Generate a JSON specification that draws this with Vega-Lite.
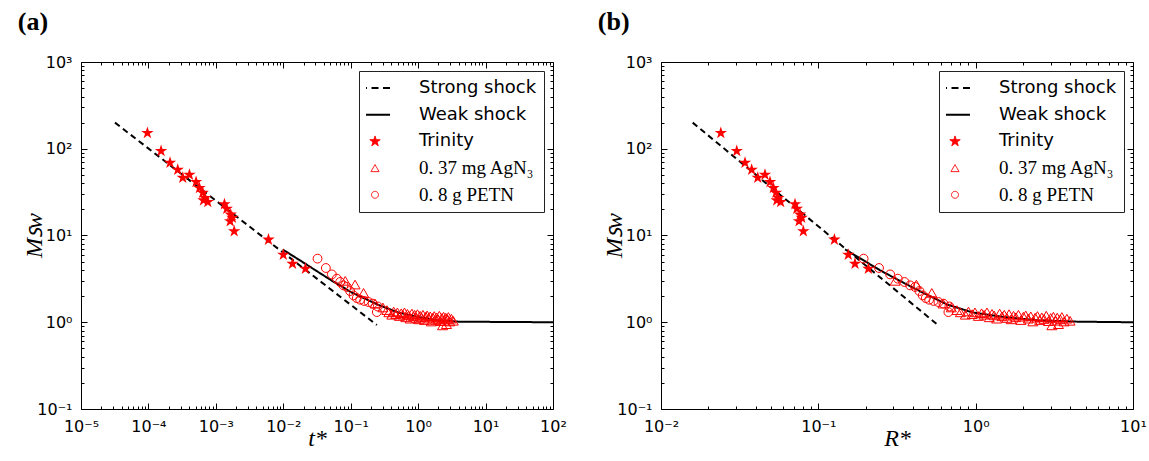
{
  "$schema": "https://vega.github.io/schema/vega-lite/v6.json",
  "background": "white",
  "padding": {"left": 17, "top": 8, "right": 0, "bottom": 0},
  "config": {
    "font": "DejaVu Sans",
    "view": {"stroke": "black", "strokeWidth": 1},
    "axis": {
      "domain": false, "ticks": true, "grid": false, "tickSize": -6, "tickColor": "black", "tickWidth": 1,
      "labelFont": "DejaVu Sans", "labelFontSize": 16, "labelColor": "black",
      "labelOverlap": false, "labelFlush": false, "labelBound": false, "labelPadding": 15,
      "titleFont": "Liberation Serif", "titleFontStyle": "italic", "titleFontWeight": "normal",
      "titleFontSize": 24, "titleColor": "black", "titlePadding": -10
    },
    "axisBottom": {"titlePadding": -8},
    "title": {"font": "Liberation Serif", "fontSize": 26, "fontWeight": "bold", "color": "black", "anchor": "start", "frame": "bounds"}
  },
  "datasets": {
    "lines": [
      {"series": "Strong shock", "t": 3.19e-5, "R": 0.0159, "M": 200},
      {"series": "Strong shock", "t": 0.244, "R": 0.575, "M": 0.93},
      {"series": "Weak shock", "t": 0.0098, "R": 0.148, "M": 6.9},
      {"series": "Weak shock", "t": 0.0189, "R": 0.200, "M": 5.0},
      {"series": "Weak shock", "t": 0.0296, "R": 0.245, "M": 4.0},
      {"series": "Weak shock", "t": 0.053, "R": 0.33, "M": 3.0},
      {"series": "Weak shock", "t": 0.104, "R": 0.46, "M": 2.2},
      {"series": "Weak shock", "t": 0.25, "R": 0.66, "M": 1.6},
      {"series": "Weak shock", "t": 0.5, "R": 0.95, "M": 1.3},
      {"series": "Weak shock", "t": 1.0, "R": 1.5, "M": 1.15},
      {"series": "Weak shock", "t": 2.0, "R": 2.5, "M": 1.05},
      {"series": "Weak shock", "t": 4.0, "R": 4.5, "M": 1.015},
      {"series": "Weak shock", "t": 100, "R": 10, "M": 1.0}
    ],
    "pts": [
      {"series": "Trinity", "t": 9.66e-5, "R": 0.0240, "M": 151.7},
      {"series": "Trinity", "t": 1.54e-4, "R": 0.0303, "M": 94.2},
      {"series": "Trinity", "t": 2.09e-4, "R": 0.0342, "M": 69.0},
      {"series": "Trinity", "t": 2.72e-4, "R": 0.0377, "M": 57.3},
      {"series": "Trinity", "t": 3.23e-4, "R": 0.0412, "M": 46.3},
      {"series": "Trinity", "t": 4.06e-4, "R": 0.0458, "M": 50.2},
      {"series": "Trinity", "t": 5.09e-4, "R": 0.0493, "M": 41.3},
      {"series": "Trinity", "t": 5.71e-4, "R": 0.0518, "M": 35.2},
      {"series": "Trinity", "t": 6.40e-4, "R": 0.0538, "M": 31.1},
      {"series": "Trinity", "t": 6.92e-4, "R": 0.0557, "M": 27.0},
      {"series": "Trinity", "t": 7.59e-4, "R": 0.0576, "M": 24.3},
      {"series": "Trinity", "t": 6.55e-4, "R": 0.0544, "M": 25.4},
      {"series": "Trinity", "t": 1.34e-3, "R": 0.0711, "M": 22.9},
      {"series": "Trinity", "t": 1.45e-3, "R": 0.0730, "M": 20.4},
      {"series": "Trinity", "t": 1.66e-3, "R": 0.0766, "M": 17.4},
      {"series": "Trinity", "t": 1.76e-3, "R": 0.0784, "M": 16.0},
      {"series": "Trinity", "t": 1.63e-3, "R": 0.0754, "M": 14.6},
      {"series": "Trinity", "t": 1.87e-3, "R": 0.0803, "M": 11.2},
      {"series": "Trinity", "t": 6.03e-3, "R": 0.1265, "M": 8.96},
      {"series": "Trinity", "t": 1.0e-2, "R": 0.155, "M": 6.01},
      {"series": "Trinity", "t": 1.37e-2, "R": 0.171, "M": 4.73},
      {"series": "Trinity", "t": 2.13e-2, "R": 0.208, "M": 4.14},
      {"series": "0. 8 g PETN", "t": 0.0322, "R": 0.194, "M": 5.41},
      {"series": "0. 8 g PETN", "t": 0.0428, "R": 0.243, "M": 4.22},
      {"series": "0. 8 g PETN", "t": 0.0525, "R": 0.286, "M": 3.56},
      {"series": "0. 8 g PETN", "t": 0.0623, "R": 0.320, "M": 3.18},
      {"series": "0. 8 g PETN", "t": 0.0697, "R": 0.353, "M": 2.91},
      {"series": "0. 8 g PETN", "t": 0.0781, "R": 0.383, "M": 2.66},
      {"series": "0. 8 g PETN", "t": 0.0875, "R": 0.412, "M": 2.55},
      {"series": "0. 8 g PETN", "t": 0.098, "R": 0.439, "M": 2.29},
      {"series": "0. 8 g PETN", "t": 0.110, "R": 0.461, "M": 2.04},
      {"series": "0. 8 g PETN", "t": 0.123, "R": 0.482, "M": 1.90},
      {"series": "0. 8 g PETN", "t": 0.138, "R": 0.506, "M": 1.82},
      {"series": "0. 8 g PETN", "t": 0.158, "R": 0.540, "M": 1.76},
      {"series": "0. 8 g PETN", "t": 0.184, "R": 0.580, "M": 1.71},
      {"series": "0. 8 g PETN", "t": 0.211, "R": 0.624, "M": 1.64},
      {"series": "0. 8 g PETN", "t": 0.252, "R": 0.681, "M": 1.52},
      {"series": "0. 8 g PETN", "t": 0.244, "R": 0.671, "M": 1.31},
      {"series": "0. 37 mg AgN₃", "t": 0.083, "R": 0.308, "M": 3.0},
      {"series": "0. 37 mg AgN₃", "t": 0.116, "R": 0.42, "M": 2.72},
      {"series": "0. 37 mg AgN₃", "t": 0.155, "R": 0.526, "M": 2.18},
      {"series": "0. 37 mg AgN₃", "t": 0.23, "R": 0.62, "M": 1.64},
      {"series": "0. 37 mg AgN₃", "t": 0.30, "R": 0.70, "M": 1.48},
      {"series": "0. 37 mg AgN₃", "t": 0.344, "R": 0.76, "M": 1.38},
      {"series": "0. 37 mg AgN₃", "t": 0.368, "R": 0.80, "M": 1.30},
      {"series": "0. 37 mg AgN₃", "t": 0.407, "R": 0.86, "M": 1.22},
      {"series": "0. 37 mg AgN₃", "t": 0.433, "R": 0.90, "M": 1.33},
      {"series": "0. 37 mg AgN₃", "t": 0.466, "R": 0.95, "M": 1.24},
      {"series": "0. 37 mg AgN₃", "t": 0.493, "R": 0.99, "M": 1.30},
      {"series": "0. 37 mg AgN₃", "t": 0.527, "R": 1.04, "M": 1.18},
      {"series": "0. 37 mg AgN₃", "t": 0.562, "R": 1.09, "M": 1.27},
      {"series": "0. 37 mg AgN₃", "t": 0.591, "R": 1.13, "M": 1.22},
      {"series": "0. 37 mg AgN₃", "t": 0.627, "R": 1.18, "M": 1.30},
      {"series": "0. 37 mg AgN₃", "t": 0.656, "R": 1.22, "M": 1.14},
      {"series": "0. 37 mg AgN₃", "t": 0.693, "R": 1.27, "M": 1.25},
      {"series": "0. 37 mg AgN₃", "t": 0.724, "R": 1.31, "M": 1.20},
      {"series": "0. 37 mg AgN₃", "t": 0.762, "R": 1.36, "M": 1.10},
      {"series": "0. 37 mg AgN₃", "t": 0.808, "R": 1.42, "M": 1.26},
      {"series": "0. 37 mg AgN₃", "t": 0.848, "R": 1.47, "M": 1.17},
      {"series": "0. 37 mg AgN₃", "t": 0.887, "R": 1.52, "M": 1.22},
      {"series": "0. 37 mg AgN₃", "t": 0.935, "R": 1.58, "M": 1.12},
      {"series": "0. 37 mg AgN₃", "t": 0.977, "R": 1.63, "M": 1.24},
      {"series": "0. 37 mg AgN₃", "t": 1.02, "R": 1.68, "M": 1.08},
      {"series": "0. 37 mg AgN₃", "t": 1.07, "R": 1.74, "M": 1.19},
      {"series": "0. 37 mg AgN₃", "t": 1.12, "R": 1.80, "M": 1.14},
      {"series": "0. 37 mg AgN₃", "t": 1.18, "R": 1.87, "M": 1.22},
      {"series": "0. 37 mg AgN₃", "t": 1.24, "R": 1.94, "M": 1.06},
      {"series": "0. 37 mg AgN₃", "t": 1.30, "R": 2.01, "M": 1.16},
      {"series": "0. 37 mg AgN₃", "t": 1.36, "R": 2.08, "M": 1.20},
      {"series": "0. 37 mg AgN₃", "t": 1.44, "R": 2.16, "M": 1.10},
      {"series": "0. 37 mg AgN₃", "t": 1.51, "R": 2.24, "M": 1.17},
      {"series": "0. 37 mg AgN₃", "t": 1.57, "R": 2.31, "M": 1.02},
      {"series": "0. 37 mg AgN₃", "t": 1.65, "R": 2.39, "M": 1.13},
      {"series": "0. 37 mg AgN₃", "t": 1.73, "R": 2.47, "M": 1.18},
      {"series": "0. 37 mg AgN₃", "t": 1.80, "R": 2.55, "M": 1.06},
      {"series": "0. 37 mg AgN₃", "t": 1.88, "R": 2.63, "M": 1.14},
      {"series": "0. 37 mg AgN₃", "t": 1.97, "R": 2.72, "M": 1.09},
      {"series": "0. 37 mg AgN₃", "t": 2.06, "R": 2.81, "M": 1.19},
      {"series": "0. 37 mg AgN₃", "t": 2.15, "R": 2.90, "M": 1.03},
      {"series": "0. 37 mg AgN₃", "t": 2.25, "R": 3.00, "M": 1.12},
      {"series": "0. 37 mg AgN₃", "t": 2.30, "R": 3.05, "M": 0.92},
      {"series": "0. 37 mg AgN₃", "t": 2.38, "R": 3.12, "M": 1.16},
      {"series": "0. 37 mg AgN₃", "t": 2.46, "R": 3.20, "M": 1.04},
      {"series": "0. 37 mg AgN₃", "t": 2.57, "R": 3.30, "M": 1.13},
      {"series": "0. 37 mg AgN₃", "t": 2.63, "R": 3.36, "M": 0.95},
      {"series": "0. 37 mg AgN₃", "t": 2.73, "R": 3.45, "M": 1.08},
      {"series": "0. 37 mg AgN₃", "t": 2.81, "R": 3.53, "M": 1.15},
      {"series": "0. 37 mg AgN₃", "t": 2.94, "R": 3.65, "M": 1.02},
      {"series": "0. 37 mg AgN₃", "t": 3.11, "R": 3.80, "M": 1.10},
      {"series": "0. 37 mg AgN₃", "t": 3.32, "R": 3.98, "M": 1.04}
    ]
  },
  "spacing": 30,
  "resolve": {"scale": {"color": "independent", "strokeDash": "independent"}, "legend": {"color": "independent"}},
  "hconcat": [
    {
      "width": 472, "height": 347,
      "title": {"text": "(a)", "offset": 19, "dx": -5},
      "resolve": {"axis": {"x": "independent", "y": "independent"}},
      "layer": [
        {
          "data": {"name": "lines"},
          "mark": {"type": "line", "strokeWidth": 2, "clip": true},
          "encoding": {
            "x": {"field": "t", "type": "quantitative",
              "scale": {"type": "log", "domain": [1e-5, 100], "nice": false},
              "axis": {"orient": "bottom", "title": "t*",
                "values": [1e-5,1e-4,1e-3,1e-2,0.1,1,10,100],
                "labelExpr": "'10' + (round(log(datum.value)/LN10) < 0 ? '⁻' : '') + ['⁰','¹','²','³','⁴','⁵','⁶','⁷','⁸','⁹'][abs(round(log(datum.value)/LN10))]"
              }},
            "y": {"field": "M", "type": "quantitative",
              "scale": {"type": "log", "domain": [0.1, 1000], "nice": false},
              "axis": {"orient": "left", "title": "Mꜱᴡ",
                "values": [0.1,1,10,100,1000],
                "labelExpr": "'10' + (round(log(datum.value)/LN10) < 0 ? '⁻' : '') + ['⁰','¹','²','³','⁴','⁵','⁶','⁷','⁸','⁹'][abs(round(log(datum.value)/LN10))]"
              }},
            "color": {"field": "series", "type": "nominal",
              "scale": {"domain": ["Strong shock", "Weak shock", "Trinity", "0. 37 mg AgN₃", "0. 8 g PETN"], "range": ["black", "black", "#ff0000", "#ff0000", "#ff0000"]},
              "legend": {"title": null, "orient": "top-right", "offset": 9, "padding": 7, "strokeColor": "#222", "fillColor": "white", "cornerRadius": 0,
                "symbolSize": 900, "clipHeight": 20, "rowPadding": 6.7, "labelOffset": 35,
                "labelFont": "DejaVu Sans", "labelFontSize": 18, "labelColor": "black", "labelLimit": 300,
                "encode": {
                  "symbols": {"update": {
                    "shape": {"signal": "datum.index < 2 ? 'stroke' : datum.index == 2 ? 'M0,-1L0.225,-0.309L0.951,-0.309L0.363,0.118L0.588,0.809L0,0.382L-0.588,0.809L-0.363,0.118L-0.951,-0.309L-0.225,-0.309Z' : datum.index == 3 ? 'triangle-up' : 'circle'"},
                    "size": {"signal": "datum.index < 2 ? 900 : datum.index == 2 ? 120 : datum.index == 3 ? 66 : 48"},
                    "fill": {"signal": "datum.index == 2 ? '#ff0000' : 'white'"},
                    "fillOpacity": {"signal": "datum.index == 2 ? 1 : 0"},
                    "stroke": {"signal": "datum.index < 2 ? 'black' : '#ff0000'"},
                    "strokeWidth": {"signal": "datum.index < 2 ? 2 : 1"},
                    "strokeDash": {"signal": "datum.index == 0 ? [7,4.5] : [1,0]"},
                    "opacity": {"value": 1}
                  }},
                  "labels": {"update": {
                    "font": {"signal": "datum.index >= 3 ? 'Liberation Serif' : 'DejaVu Sans'"},
                    "fontSize": {"signal": "datum.index >= 3 ? 19 : 18"}
                  }}
                }}},
            "strokeDash": {"field": "series", "type": "nominal",
              "scale": {"domain": ["Strong shock", "Weak shock"], "range": [[6, 4], [1, 0]]}, "legend": null}
          }
        },
        {
          "data": {"name": "pts"},
          "transform": [{"filter": "datum.series == 'Trinity'"}],
          "mark": {"type": "point", "filled": true, "opacity": 1, "size": 170, "strokeWidth": 0,
            "shape": "M0,-1L0.225,-0.309L0.951,-0.309L0.363,0.118L0.588,0.809L0,0.382L-0.588,0.809L-0.363,0.118L-0.951,-0.309L-0.225,-0.309Z"},
          "encoding": {
            "x": {"field": "t", "type": "quantitative",
              "axis": {"orient": "top", "title": null, "labels": false, "values": [1e-5,1e-4,1e-3,1e-2,0.1,1,10,100]}},
            "y": {"field": "M", "type": "quantitative",
              "axis": {"orient": "right", "title": null, "labels": false, "values": [0.1,1,10,100,1000]}},
            "color": {"field": "series", "type": "nominal"}
          }
        },
        {
          "data": {"name": "pts"},
          "transform": [{"filter": "datum.series == '0. 37 mg AgN₃'"}],
          "mark": {"type": "point", "filled": false, "opacity": 1, "size": 100, "strokeWidth": 1, "shape": "triangle-up"},
          "encoding": {
            "x": {"field": "t", "type": "quantitative",
              "axis": {"orient": "bottom", "title": null, "labels": false, "tickSize": -3,
                "values": [2e-5,3e-5,4e-5,5e-5,6e-5,7e-5,8e-5,9e-5,2e-4,3e-4,4e-4,5e-4,6e-4,7e-4,8e-4,9e-4,2e-3,3e-3,4e-3,5e-3,6e-3,7e-3,8e-3,9e-3,2e-2,3e-2,4e-2,5e-2,6e-2,7e-2,8e-2,9e-2,0.2,0.3,0.4,0.5,0.6,0.7,0.8,0.9,2,3,4,5,6,7,8,9,20,30,40,50,60,70,80,90]}},
            "y": {"field": "M", "type": "quantitative",
              "axis": {"orient": "left", "title": null, "labels": false, "tickSize": -3,
                "values": [0.2,0.3,0.4,0.5,0.6,0.7,0.8,0.9,2,3,4,5,6,7,8,9,20,30,40,50,60,70,80,90,200,300,400,500,600,700,800,900]}},
            "color": {"field": "series", "type": "nominal"}
          }
        },
        {
          "data": {"name": "pts"},
          "transform": [{"filter": "datum.series == '0. 8 g PETN'"}],
          "mark": {"type": "point", "filled": false, "opacity": 1, "size": 78, "strokeWidth": 1, "shape": "circle"},
          "encoding": {
            "x": {"field": "t", "type": "quantitative",
              "axis": {"orient": "top", "title": null, "labels": false, "tickSize": -3,
                "values": [2e-5,3e-5,4e-5,5e-5,6e-5,7e-5,8e-5,9e-5,2e-4,3e-4,4e-4,5e-4,6e-4,7e-4,8e-4,9e-4,2e-3,3e-3,4e-3,5e-3,6e-3,7e-3,8e-3,9e-3,2e-2,3e-2,4e-2,5e-2,6e-2,7e-2,8e-2,9e-2,0.2,0.3,0.4,0.5,0.6,0.7,0.8,0.9,2,3,4,5,6,7,8,9,20,30,40,50,60,70,80,90]}},
            "y": {"field": "M", "type": "quantitative",
              "axis": {"orient": "right", "title": null, "labels": false, "tickSize": -3,
                "values": [0.2,0.3,0.4,0.5,0.6,0.7,0.8,0.9,2,3,4,5,6,7,8,9,20,30,40,50,60,70,80,90,200,300,400,500,600,700,800,900]}},
            "color": {"field": "series", "type": "nominal"}
          }
        }
      ]
    },
    {
      "width": 472, "height": 347,
      "title": {"text": "(b)", "offset": 19, "dx": -5},
      "resolve": {"axis": {"x": "independent", "y": "independent"}},
      "layer": [
        {
          "data": {"name": "lines"},
          "mark": {"type": "line", "strokeWidth": 2, "clip": true},
          "encoding": {
            "x": {"field": "R", "type": "quantitative",
              "scale": {"type": "log", "domain": [0.01, 10], "nice": false},
              "axis": {"orient": "bottom", "title": "R*",
                "values": [0.01,0.1,1,10],
                "labelExpr": "'10' + (round(log(datum.value)/LN10) < 0 ? '⁻' : '') + ['⁰','¹','²','³','⁴','⁵','⁶','⁷','⁸','⁹'][abs(round(log(datum.value)/LN10))]"
              }},
            "y": {"field": "M", "type": "quantitative",
              "scale": {"type": "log", "domain": [0.1, 1000], "nice": false},
              "axis": {"orient": "left", "title": "Mꜱᴡ",
                "values": [0.1,1,10,100,1000],
                "labelExpr": "'10' + (round(log(datum.value)/LN10) < 0 ? '⁻' : '') + ['⁰','¹','²','³','⁴','⁵','⁶','⁷','⁸','⁹'][abs(round(log(datum.value)/LN10))]"
              }},
            "color": {"field": "series", "type": "nominal",
              "scale": {"domain": ["Strong shock", "Weak shock", "Trinity", "0. 37 mg AgN₃", "0. 8 g PETN"], "range": ["black", "black", "#ff0000", "#ff0000", "#ff0000"]},
              "legend": {"title": null, "orient": "top-right", "offset": 9, "padding": 7, "strokeColor": "#222", "fillColor": "white", "cornerRadius": 0,
                "symbolSize": 900, "clipHeight": 20, "rowPadding": 6.7, "labelOffset": 35,
                "labelFont": "DejaVu Sans", "labelFontSize": 18, "labelColor": "black", "labelLimit": 300,
                "encode": {
                  "symbols": {"update": {
                    "shape": {"signal": "datum.index < 2 ? 'stroke' : datum.index == 2 ? 'M0,-1L0.225,-0.309L0.951,-0.309L0.363,0.118L0.588,0.809L0,0.382L-0.588,0.809L-0.363,0.118L-0.951,-0.309L-0.225,-0.309Z' : datum.index == 3 ? 'triangle-up' : 'circle'"},
                    "size": {"signal": "datum.index < 2 ? 900 : datum.index == 2 ? 120 : datum.index == 3 ? 66 : 48"},
                    "fill": {"signal": "datum.index == 2 ? '#ff0000' : 'white'"},
                    "fillOpacity": {"signal": "datum.index == 2 ? 1 : 0"},
                    "stroke": {"signal": "datum.index < 2 ? 'black' : '#ff0000'"},
                    "strokeWidth": {"signal": "datum.index < 2 ? 2 : 1"},
                    "strokeDash": {"signal": "datum.index == 0 ? [7,4.5] : [1,0]"},
                    "opacity": {"value": 1}
                  }},
                  "labels": {"update": {
                    "font": {"signal": "datum.index >= 3 ? 'Liberation Serif' : 'DejaVu Sans'"},
                    "fontSize": {"signal": "datum.index >= 3 ? 19 : 18"}
                  }}
                }}},
            "strokeDash": {"field": "series", "type": "nominal",
              "scale": {"domain": ["Strong shock", "Weak shock"], "range": [[6, 4], [1, 0]]}, "legend": null}
          }
        },
        {
          "data": {"name": "pts"},
          "transform": [{"filter": "datum.series == 'Trinity'"}],
          "mark": {"type": "point", "filled": true, "opacity": 1, "size": 170, "strokeWidth": 0,
            "shape": "M0,-1L0.225,-0.309L0.951,-0.309L0.363,0.118L0.588,0.809L0,0.382L-0.588,0.809L-0.363,0.118L-0.951,-0.309L-0.225,-0.309Z"},
          "encoding": {
            "x": {"field": "R", "type": "quantitative",
              "axis": {"orient": "top", "title": null, "labels": false, "values": [0.01,0.1,1,10]}},
            "y": {"field": "M", "type": "quantitative",
              "axis": {"orient": "right", "title": null, "labels": false, "values": [0.1,1,10,100,1000]}},
            "color": {"field": "series", "type": "nominal"}
          }
        },
        {
          "data": {"name": "pts"},
          "transform": [{"filter": "datum.series == '0. 37 mg AgN₃'"}],
          "mark": {"type": "point", "filled": false, "opacity": 1, "size": 100, "strokeWidth": 1, "shape": "triangle-up"},
          "encoding": {
            "x": {"field": "R", "type": "quantitative",
              "axis": {"orient": "bottom", "title": null, "labels": false, "tickSize": -3,
                "values": [0.02,0.03,0.04,0.05,0.06,0.07,0.08,0.09,0.2,0.3,0.4,0.5,0.6,0.7,0.8,0.9,2,3,4,5,6,7,8,9]}},
            "y": {"field": "M", "type": "quantitative",
              "axis": {"orient": "left", "title": null, "labels": false, "tickSize": -3,
                "values": [0.2,0.3,0.4,0.5,0.6,0.7,0.8,0.9,2,3,4,5,6,7,8,9,20,30,40,50,60,70,80,90,200,300,400,500,600,700,800,900]}},
            "color": {"field": "series", "type": "nominal"}
          }
        },
        {
          "data": {"name": "pts"},
          "transform": [{"filter": "datum.series == '0. 8 g PETN'"}],
          "mark": {"type": "point", "filled": false, "opacity": 1, "size": 78, "strokeWidth": 1, "shape": "circle"},
          "encoding": {
            "x": {"field": "R", "type": "quantitative",
              "axis": {"orient": "top", "title": null, "labels": false, "tickSize": -3,
                "values": [0.02,0.03,0.04,0.05,0.06,0.07,0.08,0.09,0.2,0.3,0.4,0.5,0.6,0.7,0.8,0.9,2,3,4,5,6,7,8,9]}},
            "y": {"field": "M", "type": "quantitative",
              "axis": {"orient": "right", "title": null, "labels": false, "tickSize": -3,
                "values": [0.2,0.3,0.4,0.5,0.6,0.7,0.8,0.9,2,3,4,5,6,7,8,9,20,30,40,50,60,70,80,90,200,300,400,500,600,700,800,900]}},
            "color": {"field": "series", "type": "nominal"}
          }
        }
      ]
    }
  ]
}
